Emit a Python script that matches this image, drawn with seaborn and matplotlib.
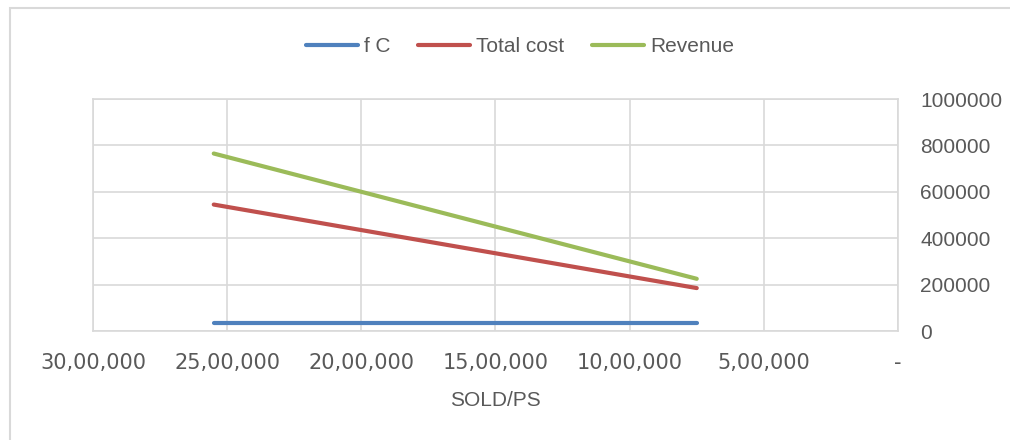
"""
break-even style chart: fixed cost, total cost and revenue vs units sold
"""

import seaborn as sns
import matplotlib.pyplot as plt
import matplotlib.patches as mpatches
import pandas as pd

# data
units_sold = [2550000, 750000]
fixed_cost = [35000, 35000]
total_cost = [545000, 185000]
revenue = [765000, 225000]

series_names = ["f C", "Total cost", "Revenue"]
series_colors = ["#4F81BD", "#C0504D", "#9BBB59"]

x_ticks = [3000000, 2500000, 2000000, 1500000, 1000000, 500000, 0]
x_tick_labels = ["30,00,000", "25,00,000", "20,00,000", "15,00,000",
                 "10,00,000", "5,00,000", "-"]
y_ticks = [0, 200000, 400000, 600000, 800000, 1000000]

df = pd.DataFrame({
    "units": units_sold * 3,
    "value": fixed_cost + total_cost + revenue,
    "series": [s for s in series_names for _ in units_sold],
})

sns.set_style("white")
plt.rcParams["font.family"] = ["Liberation Sans", "DejaVu Sans"]
text_grey = "#595959"
grid_grey = "#D9D9D9"

fig = plt.figure(figsize=(10.1, 4.4), dpi=100)
ax = fig.add_axes([93 / 1010, 109 / 440, 805 / 1010, 232 / 440])

sns.lineplot(data=df, x="units", y="value", hue="series", hue_order=series_names,
             palette=series_colors, linewidth=3, solid_capstyle="round",
             legend=False, ax=ax)

ax.set_xlim(3000000, 0)
ax.set_ylim(0, 1000000)
ax.set_xticks(x_ticks)
ax.set_xticklabels(x_tick_labels, family="DejaVu Sans", fontsize=15, color=text_grey)
ax.set_yticks(y_ticks)
ax.set_yticklabels([str(v) for v in y_ticks], fontsize=15, color=text_grey)
ax.yaxis.tick_right()
ax.tick_params(axis="x", length=0, pad=16)
ax.tick_params(axis="y", length=0, pad=16)
ax.grid(True, color=grid_grey, linewidth=1.2)
for side in ["left", "right", "top", "bottom"]:
    ax.spines[side].set_color(grid_grey)
    ax.spines[side].set_linewidth(1.2)

ax.set_ylabel("")
ax.set_xlabel("SOLD/PS", fontsize=15, color=text_grey, labelpad=13)

handles = [plt.Line2D([], [], color=c, linewidth=3, solid_capstyle="round")
           for c in series_colors]
fig.legend(handles, series_names, loc="center", bbox_to_anchor=(520 / 1010, 1 - 47 / 440),
           ncol=3, frameon=False, fontsize=15, handlelength=2.5, handletextpad=0.3,
           columnspacing=1.3, labelcolor=text_grey)

# chart area border
fig.patches.append(mpatches.Rectangle((9.5 / 1010, -0.05), 1.1, 1 - 8.5 / 440 + 0.05,
                                      transform=fig.transFigure, fill=False,
                                      edgecolor=grid_grey, linewidth=1.5))

fig.savefig("out.png", dpi=100)
